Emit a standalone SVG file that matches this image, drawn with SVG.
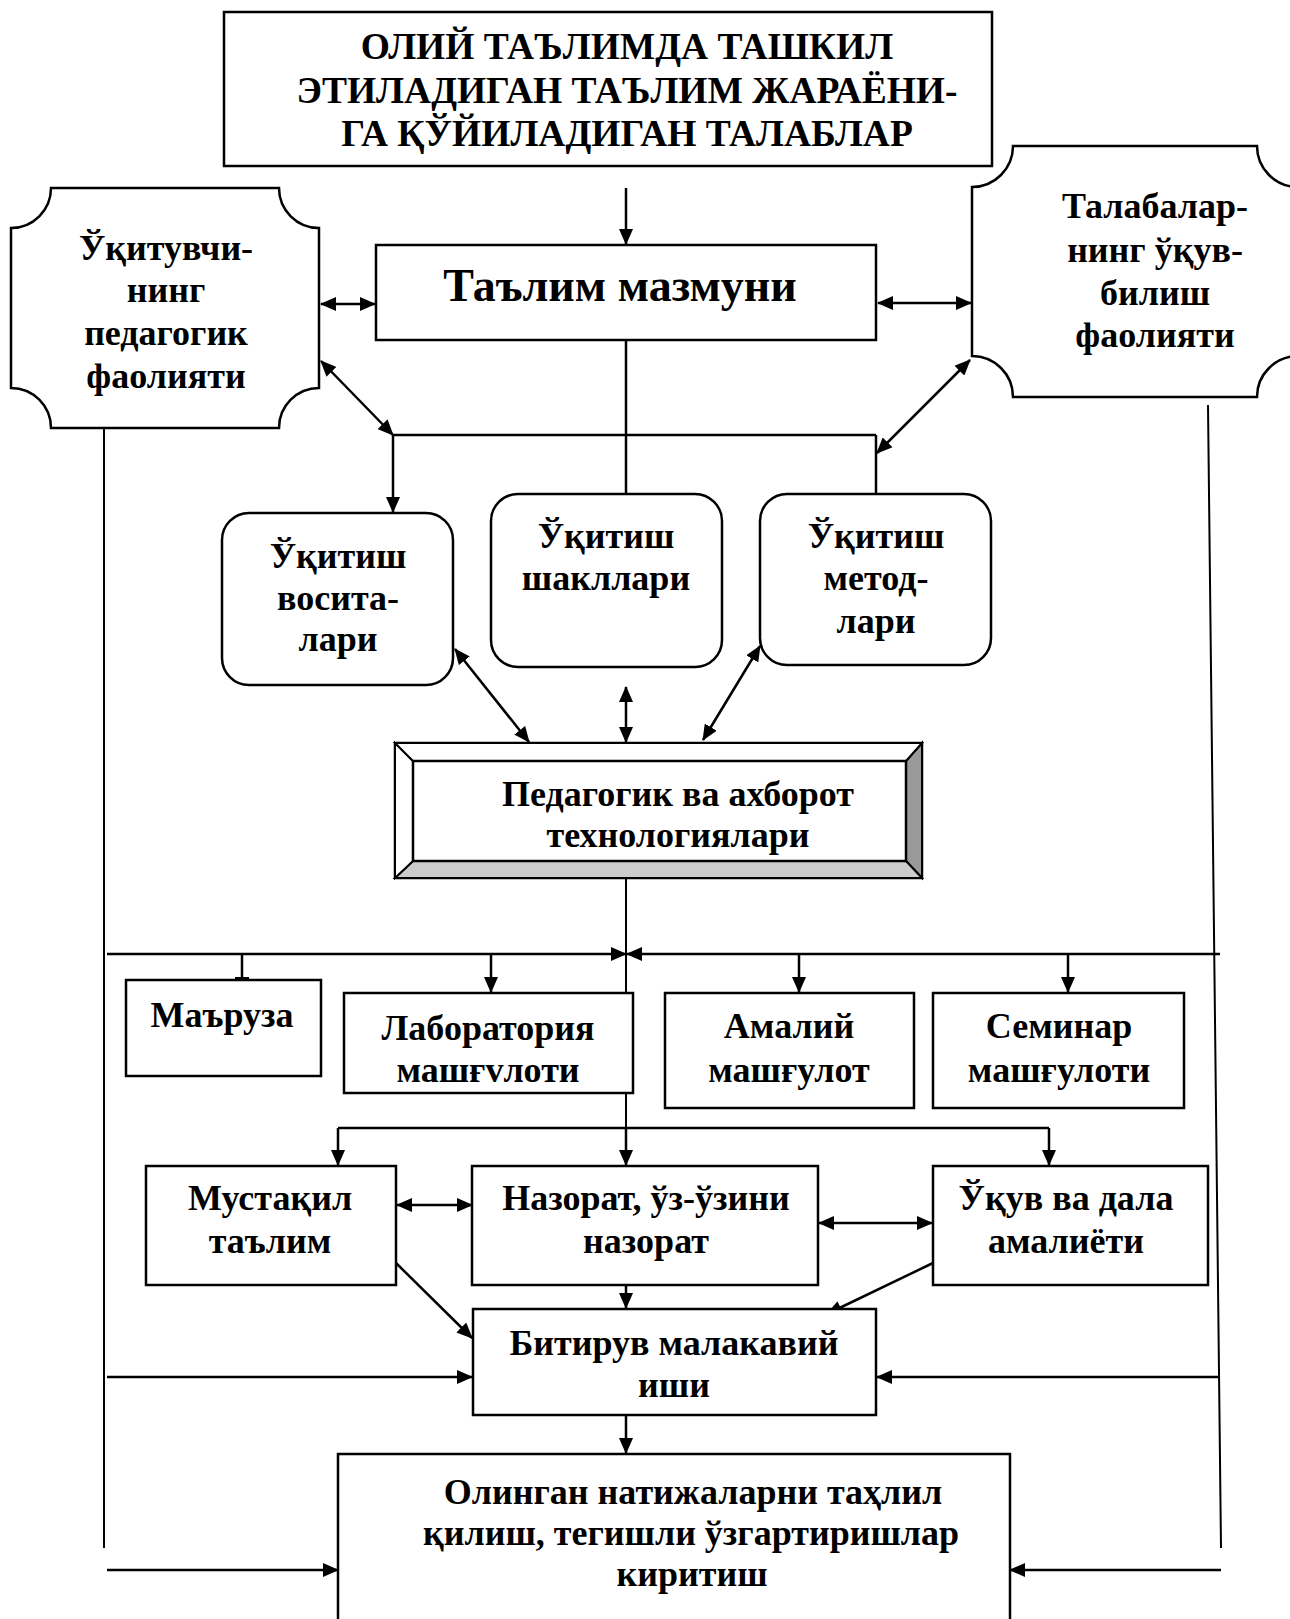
<svg xmlns="http://www.w3.org/2000/svg" width="1290" height="1619" viewBox="0 0 1290 1619">
<style>
  .box{fill:#fff;stroke:#000;stroke-width:2.5}
  .t{font-family:"Liberation Serif","Times New Roman",serif;font-weight:bold;font-size:36px;text-anchor:middle;fill:#000}
  .big{font-size:46px}
  .ttl{font-size:37.5px}
  .c{fill:none;stroke:#000;stroke-width:2.5}
  .a{marker-end:url(#ah)}
  .d{marker-start:url(#ah);marker-end:url(#ah)}
  .side{fill:none;stroke:#000;stroke-width:2}
</style>
<defs>
  <marker id="ah" viewBox="0 0 16 14" refX="15" refY="7" markerWidth="16" markerHeight="14" markerUnits="userSpaceOnUse" orient="auto-start-reverse">
    <path d="M0,0 L16,7 L0,14 Z" fill="#000"/>
  </marker>
</defs>
<rect width="1290" height="1619" fill="#fff"/>

<g id="connectors">
  <line class="c a" x1="626" y1="188" x2="626" y2="244"/>
  <line class="c d" x1="321" y1="304" x2="375" y2="304"/>
  <line class="c d" x1="878" y1="303" x2="971" y2="303"/>
  <line class="c" x1="626" y1="340" x2="626" y2="494"/>
  <line class="c" x1="393" y1="435" x2="876" y2="435"/>
  <line class="c" x1="876" y1="435" x2="876" y2="494"/>
  <line class="c a" x1="393" y1="435" x2="393" y2="512"/>
  <line class="c d" x1="321" y1="361" x2="393" y2="435"/>
  <line class="c d" x1="970" y1="360" x2="877" y2="453"/>
  <line class="c d" x1="455" y1="649" x2="529" y2="742"/>
  <line class="c d" x1="626" y1="687" x2="626" y2="742"/>
  <line class="c d" x1="760" y1="646" x2="703" y2="740"/>
  <line class="side" x1="104" y1="419" x2="104" y2="1548"/>
  <line class="side" x1="1208" y1="405" x2="1221" y2="1548"/>
  <line class="side" x1="626" y1="878" x2="626" y2="1128"/>
  <line class="c a" x1="626" y1="1128" x2="626" y2="1165"/>
  <line class="c a" x1="107" y1="954" x2="626" y2="954"/>
  <line class="c a" x1="1220" y1="954" x2="627" y2="954"/>
  <line class="c" x1="242" y1="954" x2="242" y2="979"/>
  <line x1="235" y1="978.5" x2="249" y2="978.5" stroke="#000" stroke-width="3"/>
  <line class="c a" x1="491" y1="954" x2="491" y2="992"/>
  <line class="c a" x1="799" y1="954" x2="799" y2="992"/>
  <line class="c a" x1="1068" y1="954" x2="1068" y2="992"/>
  <line class="c" x1="338" y1="1128" x2="1049" y2="1128"/>
  <line class="c a" x1="338" y1="1128" x2="338" y2="1165"/>
  <line class="c a" x1="1049" y1="1128" x2="1049" y2="1165"/>
  <line class="c d" x1="397" y1="1205" x2="472" y2="1205"/>
  <line class="c d" x1="819" y1="1223" x2="932" y2="1223"/>
  <line class="c a" x1="626" y1="1263" x2="626" y2="1308"/>
  <line class="c a" x1="396" y1="1263" x2="472" y2="1338"/>
  <line class="c a" x1="933" y1="1263" x2="827" y2="1314"/>
  <line class="c a" x1="107" y1="1377" x2="472" y2="1377"/>
  <line class="c a" x1="1220" y1="1377" x2="877" y2="1377"/>
  <line class="c a" x1="626" y1="1415" x2="626" y2="1453"/>
  <line class="c a" x1="107" y1="1570" x2="338" y2="1570"/>
  <line class="c a" x1="1221" y1="1570" x2="1010" y2="1570"/>
</g>

<g id="node-title">
  <rect class="box" x="224" y="12" width="768" height="154"/>
  <text class="t ttl" x="627" y="59">ОЛИЙ ТАЪЛИМДА ТАШКИЛ</text>
  <text class="t ttl" x="627" y="103">ЭТИЛАДИГАН ТАЪЛИМ ЖАРАЁНИ-</text>
  <text class="t ttl" x="627" y="146">ГА ҚЎЙИЛАДИГАН ТАЛАБЛАР</text>
</g>

<g id="node-content">
  <rect class="box" x="376" y="245" width="500" height="95"/>
  <text class="t big" x="620" y="301">Таълим мазмуни</text>
</g>

<g id="node-teacher">
  <path class="box" d="M51,188 H279 A40 40 0 0 0 319 228 V388 A40 40 0 0 0 279 428 H51 A40 40 0 0 0 11 388 V228 A40 40 0 0 0 51 188 Z"/>
  <text class="t" x="166" y="260">Ўқитувчи-</text>
  <text class="t" x="166" y="302">нинг</text>
  <text class="t" x="166" y="345">педагогик</text>
  <text class="t" x="166" y="388">фаолияти</text>
</g>

<g id="node-students">
  <path class="box" d="M1013,146 H1257 A41 41 0 0 0 1298 187 V356 A41 41 0 0 0 1257 397 H1013 A41 41 0 0 0 972 356 V187 A41 41 0 0 0 1013 146 Z"/>
  <text class="t" x="1155" y="218">Талабалар-</text>
  <text class="t" x="1155" y="262">нинг ўқув-</text>
  <text class="t" x="1155" y="305">билиш</text>
  <text class="t" x="1155" y="347">фаолияти</text>
</g>

<g id="node-means">
  <rect class="box" x="222" y="513" width="231" height="172" rx="27"/>
  <text class="t" x="338" y="568">Ўқитиш</text>
  <text class="t" x="338" y="610">восита-</text>
  <text class="t" x="338" y="651">лари</text>
</g>

<g id="node-forms">
  <rect class="box" x="491" y="494" width="231" height="173" rx="27"/>
  <text class="t" x="606" y="548">Ўқитиш</text>
  <text class="t" x="606" y="590">шакллари</text>
</g>

<g id="node-methods">
  <rect class="box" x="760" y="494" width="231" height="171" rx="27"/>
  <text class="t" x="876" y="548">Ўқитиш</text>
  <text class="t" x="876" y="590">метод-</text>
  <text class="t" x="876" y="633">лари</text>
</g>

<g id="node-tech">
  <rect x="395" y="743" width="527" height="135" fill="#fff" stroke="#000" stroke-width="2.5"/>
  <polygon points="922,743 906,761 906,861 922,878" fill="#999" stroke="#000" stroke-width="2"/>
  <polygon points="395,878 413,861 906,861 922,878" fill="#ccc" stroke="#000" stroke-width="2"/>
  <polygon points="395,743 413,761 413,861 395,878" fill="#fff" stroke="#000" stroke-width="2"/>
  <polygon points="395,743 922,743 906,761 413,761" fill="#fff" stroke="#000" stroke-width="2"/>
  <rect x="413" y="761" width="493" height="100" fill="#fff" stroke="#000" stroke-width="2.5"/>
  <text class="t" x="678" y="806">Педагогик ва ахборот</text>
  <text class="t" x="678" y="847">технологиялари</text>
</g>

<g id="node-lecture">
  <rect class="box" x="126" y="980" width="195" height="96"/>
  <text class="t" x="222" y="1027">Маъруза</text>
</g>

<g id="node-lab">
  <rect class="box" x="344" y="993" width="289" height="100"/>
  <text class="t" x="488" y="1040">Лаборатория</text>
  <text class="t" x="488" y="1082">машғvлоти</text>
</g>

<g id="node-practical">
  <rect class="box" x="665" y="993" width="249" height="115"/>
  <text class="t" x="789" y="1038">Амалий</text>
  <text class="t" x="789" y="1082">машғулот</text>
</g>

<g id="node-seminar">
  <rect class="box" x="933" y="993" width="251" height="115"/>
  <text class="t" x="1059" y="1038">Семинар</text>
  <text class="t" x="1059" y="1082">машғулоти</text>
</g>

<g id="node-independent">
  <rect class="box" x="146" y="1166" width="250" height="119"/>
  <text class="t" x="270" y="1210">Мустақил</text>
  <text class="t" x="270" y="1253">таълим</text>
</g>

<g id="node-control">
  <rect class="box" x="472" y="1166" width="346" height="119"/>
  <text class="t" x="646" y="1210">Назорат, ўз-ўзини</text>
  <text class="t" x="646" y="1253">назорат</text>
</g>

<g id="node-field">
  <rect class="box" x="933" y="1166" width="275" height="119"/>
  <text class="t" x="1066" y="1210">Ўқув ва дала</text>
  <text class="t" x="1066" y="1253">амалиёти</text>
</g>

<g id="node-thesis">
  <rect class="box" x="473" y="1309" width="403" height="106"/>
  <text class="t" x="674" y="1355">Битирув малакавий</text>
  <text class="t" x="674" y="1397">иши</text>
</g>

<g id="node-analysis">
  <rect class="box" x="338" y="1454" width="672" height="180"/>
  <text class="t" x="693" y="1504">Олинган натижаларни таҳлил</text>
  <text class="t" x="691" y="1545">қилиш, тегишли ўзгартиришлар</text>
  <text class="t" x="692" y="1586">киритиш</text>
</g>
</svg>
